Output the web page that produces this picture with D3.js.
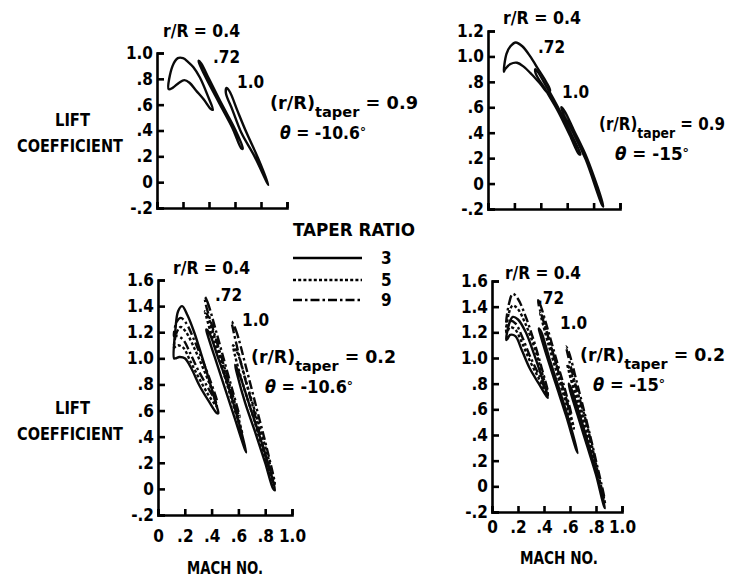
<!DOCTYPE html>
<html>
<head>
<meta charset="utf-8">
<title>Lift coefficient vs Mach number</title>
<script src="https://d3js.org/d3.v7.min.js"></script>
<style>
  body { margin: 0; background: #fff; }
  svg {
    font-family: "DejaVu Sans Condensed", "DejaVu Sans", sans-serif;
    font-stretch: condensed;
    font-weight: bold;
  }
  .axis path, .axis line { stroke: #000; stroke-width: 2.6px; }
  .axis text { font-family: "DejaVu Sans Condensed", "DejaVu Sans", sans-serif; font-size: 17px; font-weight: bold; fill: #000; }
  .loop { fill: none; stroke: #0a0a0a; stroke-width: 2.4px; stroke-linejoin: round; }
  .lbl { font-size: 17px; fill: #000; }
</style>
</head>
<body>
<div id="chart"></div>
<script>
// tick labels
var xLabels = ["0", ".2", ".4", ".6", ".8", "1.0"];
var xTicks = [0, 0.2, 0.4, 0.6, 0.8, 1.0];
var yTicksTL = [-0.2, 0, 0.2, 0.4, 0.6, 0.8, 1.0];
var yLabelsTL = ["-.2", "0", ".2", ".4", ".6", ".8", "1.0"];
var yTicksTR = [-0.2, 0, 0.2, 0.4, 0.6, 0.8, 1.0, 1.2];
var yLabelsTR = ["-.2", "0", ".2", ".4", ".6", ".8", "1.0", "1.2"];
var yTicksB = [-0.2, 0, 0.2, 0.4, 0.6, 0.8, 1.0, 1.2, 1.4, 1.6];
var yLabelsB = ["-.2", "0", ".2", ".4", ".6", ".8", "1.0", "1.2", "1.4", "1.6"];

var taperRatios = ["3", "5", "9"];

// loops: [Mach, lift coefficient], going round once
// top left, (r/R)taper = 0.9, theta = -10.6
var tl04 = [[0.09,0.72],[0.12,0.9],[0.16,0.96],[0.2,0.96],[0.24,0.93],[0.28,0.89],[0.33,0.81],[0.39,0.67],[0.43,0.56],
            [0.41,0.57],[0.36,0.64],[0.3,0.71],[0.25,0.77],[0.21,0.79],[0.17,0.77],[0.12,0.73]];
var tl072 = [[0.32,0.94],[0.34,0.92],[0.4,0.8],[0.5,0.6],[0.6,0.41],[0.66,0.26],
             [0.65,0.26],[0.58,0.42],[0.48,0.61],[0.38,0.8],[0.325,0.92]];
var tl10 = [[0.535,0.73],[0.56,0.7],[0.62,0.55],[0.69,0.38],[0.78,0.18],[0.857,-0.02],
            [0.85,-0.01],[0.75,0.2],[0.65,0.38],[0.58,0.56],[0.53,0.69]];

// top right, (r/R)taper = 0.9, theta = -15
var tr04 = [[0.12,0.88],[0.14,1.02],[0.17,1.08],[0.21,1.11],[0.26,1.08],[0.32,1.0],[0.38,0.9],[0.44,0.8],[0.47,0.73],
            [0.45,0.72],[0.4,0.78],[0.33,0.86],[0.27,0.92],[0.22,0.95],[0.17,0.94],[0.13,0.9]];
var tr072 = [[0.36,0.9],[0.45,0.75],[0.55,0.56],[0.64,0.37],[0.7,0.23],
             [0.69,0.23],[0.62,0.38],[0.53,0.57],[0.44,0.73],[0.36,0.87]];
var tr10 = [[0.555,0.6],[0.58,0.57],[0.65,0.42],[0.75,0.2],[0.874,-0.18],
            [0.865,-0.17],[0.74,0.19],[0.64,0.41],[0.57,0.55]];

// bottom left, (r/R)taper = 0.2, theta = -10.6 ; taper ratio 3, 5, 9
var bl04t3 = [[0.12,1.0],[0.13,1.22],[0.15,1.36],[0.18,1.4],[0.22,1.33],[0.27,1.2],[0.32,1.04],[0.38,0.84],[0.43,0.66],[0.45,0.58],
              [0.44,0.58],[0.38,0.67],[0.31,0.79],[0.25,0.92],[0.2,1.0],[0.16,1.01],[0.13,1.0]];
var bl04t5 = [[0.12,1.08],[0.14,1.2],[0.17,1.24],[0.21,1.2],[0.27,1.08],[0.33,0.94],[0.39,0.79],[0.44,0.63],
              [0.43,0.64],[0.37,0.73],[0.3,0.86],[0.24,0.98],[0.19,1.08],[0.15,1.1],[0.13,1.09]];
var bl04t9 = [[0.12,1.17],[0.14,1.28],[0.17,1.31],[0.21,1.27],[0.27,1.14],[0.33,0.99],[0.39,0.83],[0.44,0.67],
              [0.43,0.68],[0.37,0.78],[0.3,0.91],[0.24,1.04],[0.19,1.14],[0.15,1.17],[0.13,1.17]];
var bl072t3 = [[0.36,1.22],[0.38,1.2],[0.45,1.0],[0.52,0.8],[0.6,0.52],[0.66,0.28],
               [0.65,0.3],[0.57,0.55],[0.49,0.8],[0.42,1.02],[0.37,1.18]];
var bl072t5 = [[0.35,1.36],[0.37,1.33],[0.44,1.1],[0.51,0.86],[0.58,0.62],[0.63,0.42],
               [0.62,0.45],[0.55,0.68],[0.48,0.92],[0.41,1.14],[0.36,1.32]];
var bl072t9 = [[0.35,1.47],[0.37,1.43],[0.43,1.22],[0.5,0.96],[0.56,0.74],[0.61,0.55],
               [0.6,0.57],[0.54,0.78],[0.47,1.02],[0.4,1.26],[0.355,1.42]];
var bl10t3 = [[0.575,0.95],[0.6,0.9],[0.68,0.65],[0.76,0.4],[0.82,0.2],[0.873,-0.01],
              [0.86,0.0],[0.8,0.2],[0.73,0.42],[0.65,0.66],[0.59,0.88]];
var bl10t5 = [[0.56,1.1],[0.59,1.05],[0.67,0.78],[0.75,0.5],[0.82,0.25],[0.87,0.02],
              [0.86,0.03],[0.79,0.26],[0.72,0.52],[0.64,0.78],[0.575,1.02]];
var bl10t9 = [[0.55,1.28],[0.58,1.22],[0.66,0.92],[0.74,0.6],[0.81,0.32],[0.87,0.04],
              [0.86,0.05],[0.78,0.34],[0.71,0.62],[0.63,0.92],[0.565,1.2]];

// bottom right, (r/R)taper = 0.2, theta = -15 ; taper ratio 3, 5, 9
var br04t3 = [[0.11,1.14],[0.13,1.26],[0.16,1.32],[0.2,1.3],[0.26,1.2],[0.32,1.04],[0.38,0.86],[0.43,0.69],
              [0.42,0.7],[0.36,0.8],[0.29,0.92],[0.23,1.06],[0.18,1.17],[0.14,1.18],[0.12,1.15]];
var br04t5 = [[0.11,1.2],[0.13,1.35],[0.16,1.41],[0.2,1.38],[0.26,1.26],[0.32,1.1],[0.38,0.9],[0.43,0.71],
              [0.42,0.72],[0.36,0.84],[0.29,0.98],[0.23,1.12],[0.18,1.22],[0.14,1.24],[0.12,1.21]];
var br04t9 = [[0.11,1.25],[0.13,1.42],[0.16,1.5],[0.2,1.46],[0.26,1.32],[0.32,1.14],[0.38,0.93],[0.43,0.73],
              [0.42,0.74],[0.36,0.87],[0.29,1.02],[0.23,1.17],[0.18,1.27],[0.14,1.29],[0.12,1.26]];
var br072t3 = [[0.36,1.23],[0.38,1.2],[0.44,1.0],[0.51,0.78],[0.59,0.52],[0.66,0.26],
               [0.65,0.28],[0.57,0.55],[0.49,0.8],[0.42,1.02],[0.37,1.19]];
var br072t5 = [[0.37,1.35],[0.39,1.32],[0.45,1.1],[0.52,0.86],[0.58,0.65],[0.63,0.45],
               [0.62,0.47],[0.56,0.68],[0.5,0.88],[0.43,1.12],[0.38,1.31]];
var br072t9 = [[0.355,1.45],[0.37,1.42],[0.43,1.22],[0.5,0.97],[0.56,0.76],[0.61,0.56],
               [0.6,0.58],[0.54,0.79],[0.48,1.0],[0.41,1.24],[0.36,1.41]];
var br10t3 = [[0.59,0.8],[0.61,0.76],[0.68,0.54],[0.75,0.3],[0.81,0.07],[0.87,-0.17],
              [0.86,-0.15],[0.8,0.09],[0.73,0.32],[0.66,0.55],[0.6,0.75]];
var br10t5 = [[0.58,0.95],[0.6,0.91],[0.67,0.66],[0.74,0.4],[0.81,0.12],[0.87,-0.14],
              [0.86,-0.12],[0.8,0.14],[0.73,0.42],[0.65,0.68],[0.59,0.9]];
var br10t9 = [[0.57,1.09],[0.59,1.05],[0.66,0.78],[0.73,0.5],[0.8,0.2],[0.865,-0.1],
              [0.855,-0.08],[0.79,0.22],[0.72,0.52],[0.64,0.8],[0.58,1.04]];

// line style for each taper ratio
var dash = { "3": null, "5": "3,2.2", "9": "9,3,2.5,3" };

var width = 730, height = 577;
var svg = d3.select("#chart").append("svg")
  .attr("width", width)
  .attr("height", height);

// panel layout
var panels = [
  { left: 157, right: 287, bottom: 208, top: 53, ymax: 1.0, yTicks: yTicksTL, yLabels: yLabelsTL, showX: false, xPad: 0,
    loops: [[tl04, "3"], [tl072, "3"], [tl10, "3"]] },
  { left: 488, right: 620, bottom: 209, top: 31, ymax: 1.2, yTicks: yTicksTR, yLabels: yLabelsTR, showX: false, xPad: 0,
    loops: [[tr04, "3"], [tr072, "3"], [tr10, "3"]] },
  { left: 158, right: 292, bottom: 515, top: 280, ymax: 1.6, yTicks: yTicksB, yLabels: yLabelsB, showX: true, xPad: 15,
    loops: [[bl04t3, "3"], [bl04t5, "5"], [bl04t9, "9"], [bl072t3, "3"], [bl072t5, "5"], [bl072t9, "9"],
            [bl10t3, "3"], [bl10t5, "5"], [bl10t9, "9"]] },
  { left: 492, right: 622, bottom: 512, top: 281, ymax: 1.6, yTicks: yTicksB, yLabels: yLabelsB, showX: true, xPad: 9,
    loops: [[br04t3, "3"], [br04t5, "5"], [br04t9, "9"], [br072t3, "3"], [br072t5, "5"], [br072t9, "9"],
            [br10t3, "3"], [br10t5, "5"], [br10t9, "9"]] }
];

panels.forEach(function(p) {
  var x = d3.scaleLinear().domain([0, 1]).range([p.left, p.right]);
  var y = d3.scaleLinear().domain([-0.2, p.ymax]).range([p.bottom, p.top]);

  var line = d3.line()
    .x(function(d) { return x(d[0]); })
    .y(function(d) { return y(d[1]); })
    .curve(d3.curveCatmullRomClosed.alpha(0.5));

  var xAxis = d3.axisBottom(x)
    .tickValues(xTicks)
    .tickSizeInner(-6)
    .tickSizeOuter(-6)
    .tickPadding(p.xPad)
    .tickFormat(function(d, i) { return p.showX ? xLabels[i] : ""; });

  var yAxis = d3.axisLeft(y)
    .tickValues(p.yTicks)
    .tickSizeInner(-7)
    .tickSizeOuter(-7)
    .tickPadding(4)
    .tickFormat(function(d, i) { return p.yLabels[i]; });

  svg.append("g").attr("class", "axis")
    .attr("transform", "translate(0," + p.bottom + ")")
    .call(xAxis);
  svg.append("g").attr("class", "axis")
    .attr("transform", "translate(" + p.left + ",0)")
    .call(yAxis);

  svg.selectAll(null)
    .data(p.loops)
    .enter()
    .append("path")
      .attr("class", "loop")
      .attr("d", function(d) { return line(d[0]); })
      .attr("stroke-dasharray", function(d) { return dash[d[1]]; });
});

// annotations
function label(txt, xx, yy, size, len) {
  var t = svg.append("text").attr("class", "lbl")
    .attr("x", xx).attr("y", yy)
    .style("font-size", size + "px")
    .text(txt);
  if (len) t.attr("textLength", len).attr("lengthAdjust", "spacingAndGlyphs");
  return t;
}

function taperNote(xx, yy, val, len) {
  var t = svg.append("text").attr("class", "lbl").attr("x", xx).attr("y", yy)
    .style("font-size", "17px")
    .attr("textLength", len).attr("lengthAdjust", "spacingAndGlyphs");
  t.append("tspan").text("(r/R)");
  t.append("tspan").attr("dy", 8).style("font-size", "14px").text("taper");
  t.append("tspan").attr("dy", -8).text(" = " + val);
}

function thetaNote(xx, yy, val, len) {
  var t = svg.append("text").attr("class", "lbl").attr("x", xx).attr("y", yy)
    .style("font-size", "17px")
    .attr("textLength", len).attr("lengthAdjust", "spacingAndGlyphs");
  t.append("tspan").style("font-style", "italic").text("\u03B8");
  t.append("tspan").text(" = " + val);
  t.append("tspan").attr("dy", -3).style("font-size", "13px").text("\u00B0");
}

// top left
label("r/R = 0.4", 163, 37, 17, 77);
label(".72", 213, 63, 17);
label("1.0", 237, 88, 17);
taperNote(270, 109, "0.9", 148);
thetaNote(280, 139, "-10.6", 86);

// top right
label("r/R = 0.4", 503, 24, 17, 78);
label(".72", 538, 53, 17);
label("1.0", 562, 98, 17);
taperNote(599, 130, "0.9", 126);
thetaNote(615, 160, "-15", 74);

// bottom left
label("r/R = 0.4", 173, 274, 17, 77);
label(".72", 215, 301, 17);
label("1.0", 242, 326, 17);
taperNote(251, 363, "0.2", 145);
thetaNote(265, 393, "-10.6", 88);

// bottom right
label("r/R = 0.4", 505, 279, 17, 76);
label(".72", 537, 304, 17);
label("1.0", 560, 329, 17);
taperNote(580, 361, "0.2", 145);
thetaNote(593, 391, "-15", 72);

// y titles
label("LIFT", 55, 126, 18, 35);
label("COEFFICIENT", 17, 152, 18, 106);
label("LIFT", 55, 414, 18, 35);
label("COEFFICIENT", 17, 440, 18, 106);

// x titles
label("MACH NO.", 187, 574, 18, 76);
label("MACH NO.", 520, 564, 18, 78);

// legend
label("TAPER RATIO", 293, 236, 18, 122);
var legY = [258, 280, 300];
taperRatios.forEach(function(r, i) {
  svg.append("line")
    .attr("x1", 293).attr("x2", 362)
    .attr("y1", legY[i]).attr("y2", legY[i])
    .attr("stroke", "#000").attr("stroke-width", 2.4)
    .attr("stroke-dasharray", dash[r]);
  label(r, 381, legY[i] + 6, 17);
});
</script>
</body>
</html>
